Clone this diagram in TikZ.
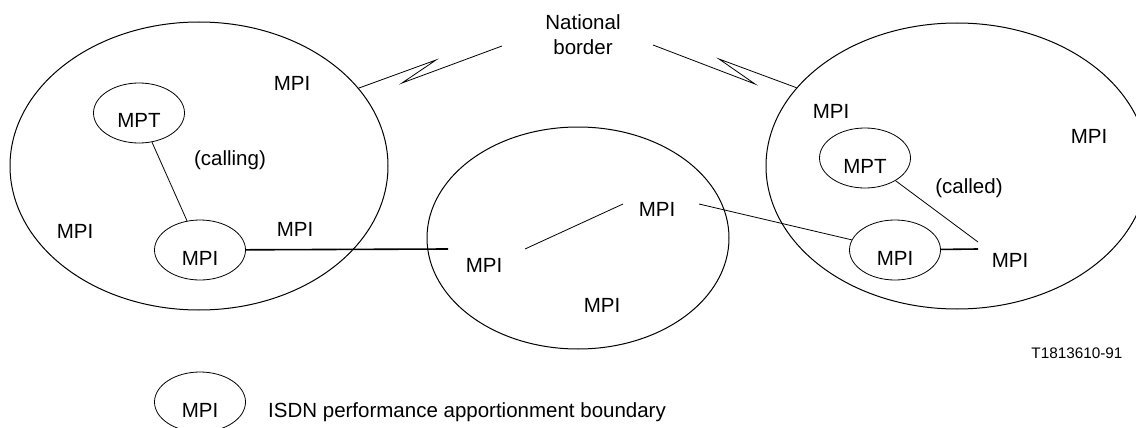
\documentclass[tikz,border=0pt]{standalone}
\usepackage{fontspec}
\setmainfont{Liberation Sans}
\usetikzlibrary{shapes.geometric}
\tikzset{
  region/.style={draw, ellipse, inner sep=0pt, line width=1pt},
  boundary/.style={draw, ellipse, inner sep=0pt, line width=0.8pt,
    minimum width=91pt, minimum height=60pt, text height=30pt, text depth=0pt},
  tag/.style={inner sep=0pt},
  link/.style={line width=0.8pt},
  trunk/.style={line width=1.6pt}
}
\begin{document}
\begin{tikzpicture}[x=1pt, y=-1pt, font=\fontsize{20.5}{25}\selectfont]
  \useasboundingbox (0,0) rectangle (1136,428);
  \clip (0,0) rectangle (1136,428);

  \node[region, minimum width=378pt, minimum height=288pt] (netL) at (199,166) {};
  \node[region, minimum width=302pt, minimum height=222pt] (netM) at (578,238) {};
  \node[region, minimum width=382pt, minimum height=286pt] (netR) at (957,166) {};

  \node[tag, align=center] (border) at (583,35) {National\\border};
  \coordinate (zagL) at (502,46);
  \coordinate (zagR) at (653,45);
  \draw[link] (netL.26) -- (436,60) -- (402,83) -- (zagL);
  \draw[link] (zagR) -- (755,84) -- (719,59) -- (netR.154);

  \node[boundary] (mptL) at (139,113) {MPT};
  \node[boundary] (mpiL) at (200,250) {MPI};
  \node[tag] (callingL) at (230,160) {(calling)};
  \node[tag] (mpiL1) at (292,83) {MPI};
  \node[tag] (mpiL2) at (75,231) {MPI};
  \node[tag] (mpiL3) at (295,229) {MPI};

  \node[tag] (mpiM1) at (484,265) {MPI};
  \node[tag] (mpiM2) at (657,209) {MPI};
  \node[tag] (mpiM3) at (602,305) {MPI};

  \node[boundary] (mptR) at (865,158) {MPT};
  \node[boundary] (mpiR) at (895,250) {MPI};
  \node[tag] (calledR) at (969,188) {(called)};
  \node[tag] (mpiR1) at (831,111) {MPI};
  \node[tag] (mpiR2) at (1089,136) {MPI};
  \node[tag] (mpiR3) at (1010,260) {MPI};

  \coordinate (endL) at (448,249);
  \coordinate (startM) at (525,249);
  \coordinate (endM) at (623,204);
  \coordinate (exitM) at (699,204);
  \coordinate (joinR) at (978,242);
  \coordinate (tailR) at (978,249);

  \draw[link] (mptL) -- (mpiL);
  \draw[trunk] (mpiL) -- (endL);
  \draw[link] (startM) -- (endM);
  \draw[link] (exitM) -- (mpiR);
  \draw[link] (mptR) -- (joinR);
  \draw[trunk] (mpiR) -- (tailR);

  \node[tag, font=\fontsize{15.3}{18}\selectfont] (figno) at (1077,353) {T1813610-91};

  \node[boundary] (key) at (200,402) {MPI};
  \node[tag, anchor=base west] (keytext) at (268,417) {ISDN performance apportionment boundary};
\end{tikzpicture}
\end{document}
